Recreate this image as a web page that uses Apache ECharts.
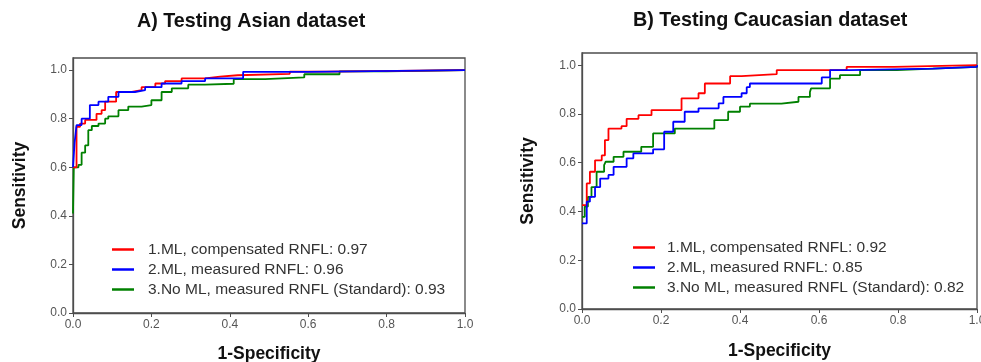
<!DOCTYPE html>
<html>
<head>
<meta charset="utf-8">
<script src="https://cdn.jsdelivr.net/npm/echarts@6/dist/echarts.min.js"></script>
<style>
  html, body { margin: 0; padding: 0; background: #fff; }
  #chart { width: 981px; height: 362px; }
</style>
</head>
<body>
<div id="chart"></div>
<script>
// panel titles and axis names
const panelTitles = ['A) Testing Asian dataset', 'B) Testing Caucasian dataset'];
const xName = '1-Specificity';
const yName = 'Sensitivity';
const tickValues = [0, 0.2, 0.4, 0.6, 0.8, 1.0];

// legend labels
const asianNames = [
  '1.ML, compensated RNFL: 0.97',
  '2.ML, measured RNFL: 0.96',
  '3.No ML, measured RNFL (Standard): 0.93',
];
const caucasianNames = [
  '1.ML, compensated RNFL: 0.92',
  '2.ML, measured RNFL: 0.85',
  '3.No ML, measured RNFL (Standard): 0.82',
];

// ROC points [1-specificity, sensitivity]
const asianRed = [[0, 0.60], [0.009, 0.767], [0.018, 0.78], [0.031, 0.795], [0.06, 0.82], [0.073, 0.835],
  [0.082, 0.87], [0.11, 0.91], [0.15, 0.918], [0.175, 0.93], [0.21, 0.945], [0.235, 0.955], [0.277, 0.966],
  [0.337, 0.973], [0.375, 0.979], [0.42, 0.985], [0.553, 0.994], [0.647, 1.0], [1, 1]];
const asianBlue = [[0, 0.60], [0.004, 0.70], [0.009, 0.774], [0.022, 0.80], [0.043, 0.856], [0.065, 0.87],
  [0.09, 0.89], [0.116, 0.91], [0.158, 0.918], [0.184, 0.93], [0.226, 0.945], [0.277, 0.955], [0.337, 0.966],
  [0.434, 0.993], [0.60, 1.0], [1, 1]];
const asianGreen = [[0, 0.41], [0.002, 0.60], [0.014, 0.61], [0.022, 0.66], [0.031, 0.69], [0.039, 0.753],
  [0.048, 0.77], [0.065, 0.78], [0.082, 0.80], [0.09, 0.81], [0.116, 0.835], [0.141, 0.85], [0.175, 0.856],
  [0.2, 0.876], [0.226, 0.91], [0.252, 0.925], [0.294, 0.94], [0.337, 0.944], [0.41, 0.963], [0.49, 0.97],
  [0.59, 0.983], [0.68, 0.995], [0.80, 1.0], [1, 1]];

const caucRed = [[0, 0.426], [0.012, 0.515], [0.02, 0.563], [0.033, 0.61], [0.05, 0.63], [0.058, 0.693],
  [0.067, 0.74], [0.10, 0.75], [0.113, 0.78], [0.143, 0.795], [0.176, 0.816], [0.252, 0.864], [0.295, 0.885],
  [0.311, 0.925], [0.375, 0.955], [0.404, 0.963], [0.493, 0.98], [0.67, 0.993], [0.79, 1.0], [1, 1]];
const caucBlue = [[0, 0.351], [0.012, 0.44], [0.02, 0.46], [0.033, 0.50], [0.046, 0.535], [0.067, 0.55],
  [0.08, 0.583], [0.113, 0.618], [0.13, 0.638], [0.18, 0.655], [0.208, 0.727], [0.231, 0.768], [0.26, 0.809],
  [0.295, 0.823], [0.346, 0.843], [0.358, 0.87], [0.404, 0.885], [0.417, 0.91], [0.425, 0.925], [0.607, 0.95],
  [0.628, 0.98], [0.678, 0.986], [0.889, 0.993], [1, 1]];
const caucGreen = [[0, 0.378], [0.007, 0.42], [0.015, 0.46], [0.024, 0.50], [0.037, 0.563], [0.056, 0.59],
  [0.06, 0.604], [0.08, 0.624], [0.105, 0.645], [0.15, 0.665], [0.18, 0.72], [0.235, 0.74], [0.335, 0.775],
  [0.37, 0.809], [0.40, 0.83], [0.425, 0.842], [0.505, 0.85], [0.548, 0.87], [0.577, 0.89], [0.58, 0.905],
  [0.628, 0.945], [0.653, 0.959], [0.704, 0.98], [0.797, 0.986], [0.889, 0.993], [1, 1]];

const colors = ['#ff0000', '#0000ff', '#008000'];
const font = "'Liberation Sans', Arial, sans-serif";
const axisColor = '#4d4d4d';

const chart = echarts.init(document.getElementById('chart'), null, { renderer: 'canvas' });

function makeX(gridIndex, nameGap) {
  return {
    type: 'value', gridIndex, min: 0, max: 1,
    name: xName, nameLocation: 'middle', nameGap,
    nameTextStyle: { fontFamily: font, fontWeight: 'bold', fontSize: 17.5, color: '#111' },
    axisLine: { show: true, lineStyle: { color: axisColor, width: 1.3 } },
    axisTick: { show: true, length: 4, customValues: tickValues, lineStyle: { color: axisColor } },
    axisLabel: { customValues: tickValues, formatter: (v) => v.toFixed(1), fontFamily: font, fontSize: 12, color: '#555', margin: 6 },
    splitLine: { show: false },
  };
}

function makeY(gridIndex, nameGap) {
  return {
    type: 'value', gridIndex, min: 0, max: 1.05,
    name: yName, nameLocation: 'middle', nameGap,
    nameTextStyle: { fontFamily: font, fontWeight: 'bold', fontSize: 17.5, color: '#111' },
    axisLine: { show: true, lineStyle: { color: axisColor, width: 1.3 } },
    axisTick: { show: true, length: 4, customValues: tickValues, lineStyle: { color: axisColor } },
    axisLabel: { customValues: tickValues, formatter: (v) => v.toFixed(1), fontFamily: font, fontSize: 12, color: '#555', margin: 6 },
    splitLine: { show: false },
  };
}

function makeSeries(names, lists, idx) {
  return lists.map((d, i) => ({
    name: names[i], type: 'line', xAxisIndex: idx, yAxisIndex: idx,
    data: d, step: 'end', showSymbol: false, symbol: 'none',
    lineStyle: { color: colors[i], width: 1.8 }, itemStyle: { color: colors[i] },
    z: 2 + (i === 0 ? 0 : i === 1 ? 1 : -1),
  }));
}

const legendBase = {
  orient: 'vertical', icon: 'rect', itemWidth: 22, itemHeight: 2.5, itemGap: 3,
  textStyle: { fontFamily: font, fontSize: 15.5, color: '#333', lineHeight: 17 },
};

const option = {
  animation: false,
  backgroundColor: '#fff',
  graphic: [
    { type: 'text', left: 137, top: 12, style: { text: panelTitles[0], font: `bold 19.7px ${font}`, fill: '#111' } },
    { type: 'text', left: 633, top: 11, style: { text: panelTitles[1], font: `bold 19.8px ${font}`, fill: '#111' } },
  ],
  grid: [
    { left: 73, top: 58, width: 392, height: 255, outerBoundsMode: 'none', containLabel: false,
      show: true, borderColor: axisColor, borderWidth: 1.3, backgroundColor: '#fff' },
    { left: 582, top: 53, width: 395, height: 256, outerBoundsMode: 'none', containLabel: false,
      show: true, borderColor: axisColor, borderWidth: 1.3, backgroundColor: '#fff' },
  ],
  xAxis: [makeX(0, 32), makeX(1, 33)],
  yAxis: [makeY(0, 44), makeY(1, 45)],
  legend: [
    Object.assign({}, legendBase, { left: 107, top: 236, data: asianNames,
      textStyle: Object.assign({}, legendBase.textStyle, { padding: [0, 0, 0, 9] }) }),
    Object.assign({}, legendBase, { left: 628, top: 234, data: caucasianNames,
      textStyle: Object.assign({}, legendBase.textStyle, { padding: [0, 0, 0, 7] }) }),
  ],
  series: [
    ...makeSeries(asianNames, [asianRed, asianBlue, asianGreen], 0),
    ...makeSeries(caucasianNames, [caucRed, caucBlue, caucGreen], 1),
  ],
};

chart.setOption(option);
window.addEventListener('resize', () => chart.resize());
</script>
</body>
</html>
